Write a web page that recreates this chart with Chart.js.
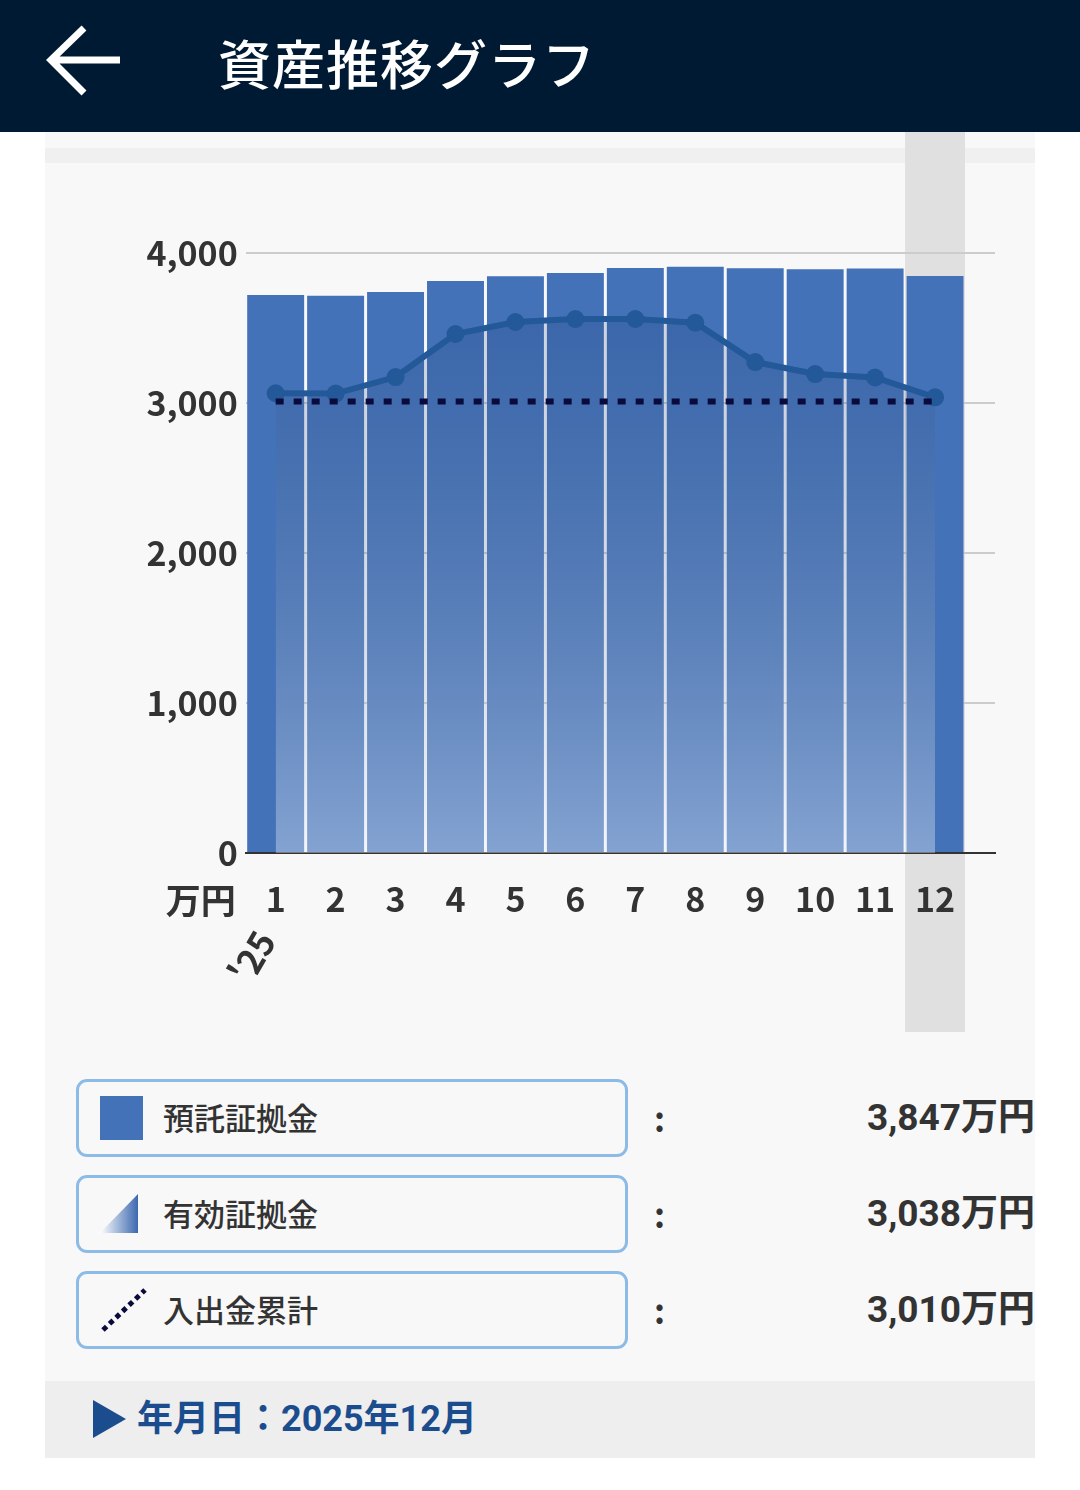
<!DOCTYPE html>
<html lang="ja">
<head>
<meta charset="utf-8">
<script src="https://cdn.jsdelivr.net/npm/chart.js@4"></script>
<style>
body{margin:0;width:1080px;height:1490px;background:#fff;font-family:"Noto Sans CJK JP",sans-serif;position:relative;overflow:hidden}
#head{position:absolute;left:0;top:0;width:1080px;height:132px;background:#011a33}
#head svg{position:absolute;left:44px;top:22px}
#title{position:absolute;left:218px;top:24px;color:#fff;font-size:53px;line-height:76px;font-weight:500;letter-spacing:1px}
#panel{position:absolute;left:45px;top:132px;width:990px;height:1326px;background:#f8f8f8;overflow:hidden}
#strip{position:absolute;left:0;top:16px;width:990px;height:15px;background:#f0f0f0}
#wrap{position:absolute;left:0;top:0;width:990px;height:908px}
.box{position:absolute;left:31px;width:546px;height:72px;border:3px solid #8dbbe8;border-radius:11px}
.lab{position:absolute;left:118px;font-size:31px;font-weight:500;color:#333;line-height:40px}
.col{position:absolute;left:609px;font-size:34px;font-weight:bold;color:#333;line-height:40px}
.val{position:absolute;right:0;font-family:Roboto,"Noto Sans CJK JP",sans-serif;font-size:37px;font-weight:bold;color:#333;line-height:40px}
.ico{position:absolute;left:55px}
#foot{position:absolute;left:0;top:1249px;width:990px;height:77px;background:#eeeeee}
#foot .tri{position:absolute;left:48px;top:19px}
#foot .txt{position:absolute;left:92px;top:16px;font-family:Roboto,"Noto Sans CJK JP",sans-serif;font-size:36px;font-weight:bold;color:#1b4d8e;line-height:44px}
</style>
</head>
<body>
<div id="head">
  <svg width="82" height="78" viewBox="0 0 82 78"><path d="M76 38 H8 M40 6 L7 38 L40 71" fill="none" stroke="#fff" stroke-width="7"/></svg>
  <div id="title">資産推移グラフ</div>
</div>
<div id="panel">
  <div id="strip"></div>
  <div id="wrap"><canvas id="assetChart"></canvas></div>

  <div class="box" style="top:947px"></div>
  <svg class="ico" style="top:964px" width="44" height="44"><rect x="0" y="0" width="43" height="44" fill="#4472b8"/></svg>
  <div class="lab" style="top:965px">預託証拠金</div>
  <div class="col" style="top:966px">:</div>
  <div class="val" style="top:966px">3,847万円</div>

  <div class="box" style="top:1043px"></div>
  <svg class="ico" style="top:1062px" width="44" height="44">
    <defs><linearGradient id="tg" x1="0" x2="1" y1="0" y2="0"><stop offset="0" stop-color="#ffffff"/><stop offset="1" stop-color="#3c68b0"/></linearGradient></defs>
    <path d="M38 0 L38 39 L0 39 Z" fill="url(#tg)"/>
  </svg>
  <div class="lab" style="top:1061px">有効証拠金</div>
  <div class="col" style="top:1062px">:</div>
  <div class="val" style="top:1062px">3,038万円</div>

  <div class="box" style="top:1139px"></div>
  <svg class="ico" style="top:1154px" width="48" height="48"><line x1="3" y1="44" x2="45" y2="4" stroke="#0a0a3c" stroke-width="5" stroke-dasharray="5 4"/></svg>
  <div class="lab" style="top:1157px">入出金累計</div>
  <div class="col" style="top:1158px">:</div>
  <div class="val" style="top:1158px">3,010万円</div>

  <div id="foot">
    <svg class="tri" width="34" height="38"><path d="M0 0 L33 19 L0 38 Z" fill="#1b4d8e"/></svg>
    <div class="txt">年月日：2025年12月</div>
  </div>
</div>
<script>
// months of 2025, values in 万円
const months = [1, 2, 3, 4, 5, 6, 7, 8, 9, 10, 11, 12];
const deposit = [3720, 3715, 3740, 3813, 3845, 3867, 3900, 3908, 3898, 3892, 3896, 3847];
const effective = [3065, 3063, 3173, 3460, 3540, 3560, 3560, 3535, 3273, 3193, 3170, 3038];
const cumulative = [3010, 3010, 3010, 3010, 3010, 3010, 3010, 3010, 3010, 3010, 3010, 3010];
const yTicks = [0, 1000, 2000, 3000, 4000];
const selected = 12;

const axisFont = {family: '"Noto Sans CJK JP"', size: 34, weight: 'bold'};

let highlight = {
  id: 'highlight',
  beforeDraw(chart) {
    let x = chart.scales.x;
    let c = chart.ctx;
    let l = x.getPixelForValue(selected - 0.5);
    let r = x.getPixelForValue(selected + 0.5);
    c.save();
    c.fillStyle = '#e0e0e0';
    c.fillRect(l, 0, r - l, 900);
    c.restore();
  }
};

let extraLabels = {
  id: 'extraLabels',
  afterDraw(chart) {
    let c = chart.ctx;
    let x = chart.scales.x;
    let bottom = chart.chartArea.bottom;
    c.save();
    c.fillStyle = '#333';
    c.font = 'bold 35px "Noto Sans CJK JP"';
    c.textAlign = 'center';
    c.textBaseline = 'middle';
    c.fillText('万円', chart.chartArea.left - 45, bottom + 48);
    c.translate(x.getPixelForValue(1) - 23, bottom + 104);
    c.rotate(-Math.PI / 3);
    c.fillText("'25", 0, 0);
    c.restore();
  }
};

let ctx = document.getElementById('assetChart').getContext('2d');
let myChart = new Chart(ctx, {
  data: {
    datasets: [{
      type: 'line',
      label: '入出金累計',
      data: months.map((m, i) => ({x: m, y: cumulative[i]})),
      borderColor: '#0a0a3c',
      borderWidth: 6,
      borderDash: [8, 10],
      pointRadius: 0,
      fill: false,
      order: 0
    }, {
      type: 'line',
      label: '有効証拠金',
      data: months.map((m, i) => ({x: m, y: effective[i]})),
      borderColor: '#235899',
      borderWidth: 6,
      pointRadius: 9,
      pointBackgroundColor: '#235899',
      pointBorderWidth: 0,
      fill: 'origin',
      backgroundColor: (c) => {
        let ch = c.chart;
        if (!ch.chartArea) return 'rgba(0,0,0,0)';
        let y = ch.scales.y;
        let g = ch.ctx.createLinearGradient(0, y.getPixelForValue(3600), 0, y.getPixelForValue(0));
        g.addColorStop(0, 'rgba(20,55,110,0.18)');
        g.addColorStop(1, 'rgba(235,242,250,0.38)');
        return g;
      },
      order: 1
    }, {
      type: 'bar',
      label: '預託証拠金',
      data: months.map((m, i) => ({x: m, y: deposit[i]})),
      backgroundColor: '#4472b8',
      categoryPercentage: 1,
      barPercentage: 0.95,
      order: 2
    }]
  },
  options: {
    responsive: true,
    maintainAspectRatio: false,
    animation: {duration: 0},
    layout: {padding: {top: 121, right: 40, left: 0, bottom: 0}},
    scales: {
      x: {
        type: 'linear',
        offset: false,
        min: 0.5,
        max: 13,
        afterBuildTicks: (s) => { s.ticks = months.map(v => ({value: v})); },
        afterFit: (s) => { s.height = 187; },
        grid: {display: false, drawTicks: false, offset: false},
        border: {display: true, color: '#333', width: 2},
        ticks: {
          font: axisFont,
          color: '#333',
          padding: 26,
          maxRotation: 0,
          autoSkip: false,
          callback: (v) => String(v)
        }
      },
      y: {
        min: 0,
        max: 4000,
        afterBuildTicks: (s) => { s.ticks = yTicks.map(v => ({value: v})); },
        afterFit: (s) => { s.width = 200.7; },
        grid: {color: (c) => c.tick.value === 0 ? 'rgba(0,0,0,0)' : '#cccccc', lineWidth: 2, drawTicks: false},
        border: {display: false},
        ticks: {
          font: axisFont,
          color: '#333',
          padding: 8,
          callback: (v) => v.toLocaleString('en-US')
        }
      }
    },
    plugins: {
      legend: {display: false},
      tooltip: {enabled: false}
    }
  },
  plugins: [highlight, extraLabels]
});
</script>
</body>
</html>
